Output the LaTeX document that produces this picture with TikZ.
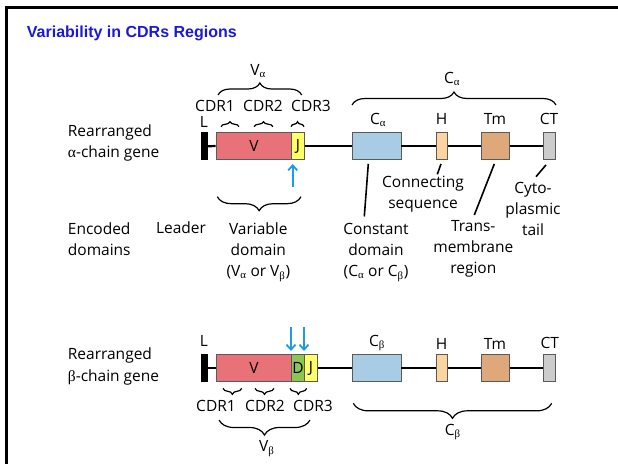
\documentclass[tikz,border=0pt]{standalone}
\usepackage{fontspec}
\setmainfont{Open Sans}
\newfontfamily\titlefont{Liberation Sans}
\newfontfamily\grk{Liberation Serif}
\usetikzlibrary{decorations.pathreplacing,arrows.meta}
\definecolor{titleblue}{RGB}{25,25,215}
\definecolor{vred}{RGB}{232,114,120}
\definecolor{jyellow}{RGB}{255,255,102}
\definecolor{dgreen}{RGB}{140,198,80}
\definecolor{cblue}{RGB}{168,204,228}
\definecolor{hpeach}{RGB}{252,212,160}
\definecolor{tmbrown}{RGB}{222,168,122}
\definecolor{ctgray}{RGB}{204,204,204}
\definecolor{boxgray}{RGB}{90,90,90}
\definecolor{arrowblue}{RGB}{30,155,225}
\newcommand{\galpha}{{\grk α}}
\newcommand{\gbeta}{{\grk β}}
\newcommand{\subalpha}{\textsubscript{\grk α}}
\newcommand{\subbeta}{\textsubscript{\grk β}}
\begin{document}
\begin{tikzpicture}[x=1pt,y=-1pt,
  font=\fontsize{15.5}{21}\selectfont,
  lbl/.style={inner sep=0pt, anchor=base},
  lblw/.style={inner sep=0pt, anchor=base west},
  ml/.style={inner sep=0pt, anchor=base, align=center},
  gbox/.style={draw=boxgray, line width=0.9pt, inner sep=0pt, minimum height=27pt},
  gline/.style={line width=2.2pt},
  brc/.style={decorate, decoration={brace, amplitude=#1}, line width=1.2pt},
  brc/.default=13pt,
  leader/.style={line width=1.6pt},
  blarrow/.style={draw=arrowblue, line width=1.8pt, -{Straight Barb[length=5pt, width=9pt]}},
  frame/.style={line width=3pt}]
\useasboundingbox (0,0) rectangle (618,463);
\clip (0,0) rectangle (618,463);
\draw[frame] (6.3,470) -- (6.3,7.5) -- (625,7.5);

\node[lblw, font=\fontsize{16}{19}\titlefont\bfseries, text=titleblue] (title) at (26.7,37.3) {Variability in CDRs Regions};

% ---------------- alpha chain ----------------
\node[lblw] (ra1) at (67.7,136.7) {Rearranged};
\node[lblw] (ra2) at (67.7,157) {\galpha-chain gene};

\node[gbox, fill=black, draw=black, minimum width=6.3pt] (La) at (204.2,146.3) {};
\node[gbox, fill=vred, minimum width=75.7pt] (Va) at (253.9,146) {V};
\node[gbox, fill=jyellow, minimum width=12.6pt] (Ja) at (298,146) {J};
\node[gbox, fill=cblue, minimum width=49pt] (Ca) at (376.5,146) {};
\node[gbox, fill=hpeach, minimum width=11.7pt] (Ha) at (441.9,146) {};
\node[gbox, fill=tmbrown, minimum width=27.3pt] (Tma) at (495.4,146) {};
\node[gbox, fill=ctgray, minimum width=12pt] (CTa) at (549.7,146) {};

\draw[gline] (La.east) -- (Va.west);
\draw[gline] (Ja.east) -- (Ca.west);
\draw[gline] (Ca.east) -- (Ha.west);
\draw[gline] (Ha.east) -- (Tma.west);
\draw[gline] (Tma.east) -- (CTa.west);

\node[lbl] (La-l) at (204,127.5) {L};
\node[lbl] (Ca-l) at (378,124.3) {C\subalpha};
\node[lbl] (Ha-l) at (441.7,124.3) {H};
\node[lbl] (Tma-l) at (495,124.3) {Tm};
\node[lbl] (CTa-l) at (549,124.3) {CT};

\node[lbl] (cdr1a) at (215,111.5) {CDR1};
\node[lbl] (cdr2a) at (263,111.5) {CDR2};
\node[lbl] (cdr3a) at (311,111.5) {CDR3};

\coordinate (b1aL) at (221,126.7); \coordinate (b1aR) at (239,126.7);
\coordinate (b2aL) at (254,126.7); \coordinate (b2aR) at (273,126.7);
\coordinate (b3aL) at (291,126.7); \coordinate (b3aR) at (304,126.7);
\draw[brc=5pt] (b1aL) -- (b1aR);
\draw[brc=5pt] (b2aL) -- (b2aR);
\draw[brc=5pt] (b3aL) -- (b3aR);

\coordinate (vaL) at (218,95); \coordinate (vaR) at (301.7,95);
\draw[brc=12pt] (vaL) -- (vaR);
\node[lbl] (Valbl) at (258,75) {V\subalpha};

\coordinate (caL) at (352,105); \coordinate (caR) at (556,105);
\draw[brc=13pt] (caL) -- (caR);
\node[lbl] (Calbl) at (452,83.3) {C\subalpha};

\coordinate (arAs) at (292.7,187); \coordinate (arAe) at (292.7,164);
\draw[blarrow] (arAs) -- (arAe);

% encoded domains
\coordinate (vdR) at (301,196.7); \coordinate (vdL) at (217.3,196.7);
\draw[brc=14pt] (vdR) -- (vdL);

\node[lblw, align=left] (enc) at (67.7,255) {Encoded\\domains};
\node[lbl] (leader) at (181,233.3) {Leader};
\node[ml] (vardom) at (258.3,276.5) {Variable\\domain\\(V\subalpha{} or V\subbeta)};

\node[ml] (conn) at (423,208.8) {Connecting\\sequence};
\node[ml] (cst) at (376,276.5) {Constant\\domain\\(C\subalpha{} or C\subbeta)};
\node[ml] (trans) at (473.3,273.5) {Trans-\\membrane\\region};
\node[ml] (cyto) at (533,235.5) {Cyto-\\plasmic\\tail};

\coordinate (cstT) at (364.3,216.5);
\coordinate (connT) at (437.3,174.3);
\coordinate (transT) at (474.3,215);
\coordinate (cytoT) at (536,176.7);
\draw[leader] ([xshift=-8.2pt,yshift=-4pt]Ca.south) -- (cstT);
\draw[leader] ([xshift=-0.9pt,yshift=-4pt]Ha.south) -- (connT);
\draw[leader] ([xshift=-1.1pt,yshift=-4pt]Tma.south) -- (transT);
\draw[leader] ([xshift=-3.7pt,yshift=-5pt]CTa.south) -- (cytoT);

% ---------------- beta chain ----------------
\node[lblw] (rb1) at (67.7,359.3) {Rearranged};
\node[lblw] (rb2) at (67.7,381) {\gbeta-chain gene};

\node[gbox, fill=black, draw=black, minimum width=6.3pt] (Lb) at (204.2,368) {};
\node[gbox, fill=vred, minimum width=75.7pt] (Vb) at (253.9,368) {V};
\node[gbox, fill=dgreen, minimum width=12.6pt] (Db) at (298,368) {D};
\node[gbox, fill=jyellow, minimum width=13.4pt] (Jb) at (311,368) {J};
\node[gbox, fill=cblue, minimum width=49pt] (Cb) at (376.5,368) {};
\node[gbox, fill=hpeach, minimum width=11.7pt] (Hb) at (441.9,368) {};
\node[gbox, fill=tmbrown, minimum width=27.3pt] (Tmb) at (495.4,368) {};
\node[gbox, fill=ctgray, minimum width=12pt] (CTb) at (549.7,368) {};

\draw[gline] (Lb.east) -- (Vb.west);
\draw[gline] (Jb.east) -- (Cb.west);
\draw[gline] (Cb.east) -- (Hb.west);
\draw[gline] (Hb.east) -- (Tmb.west);
\draw[gline] (Tmb.east) -- (CTb.west);

\node[lbl] (Lb-l) at (204,346.7) {L};
\node[lbl] (Cb-l) at (377,346) {C\subbeta};
\node[lbl] (Hb-l) at (441.7,349) {H};
\node[lbl] (Tmb-l) at (495,349) {Tm};
\node[lbl] (CTb-l) at (549.7,348.3) {CT};

\coordinate (arB1s) at (291,327); \coordinate (arB1e) at (291,351);
\coordinate (arB2s) at (304,327); \coordinate (arB2e) at (304,351);
\draw[blarrow] (arB1s) -- (arB1e);
\draw[blarrow] (arB2s) -- (arB2e);

\coordinate (b1bL) at (223,388.3); \coordinate (b1bR) at (241.7,388.3);
\coordinate (b2bL) at (255,388.3); \coordinate (b2bR) at (274,388.3);
\coordinate (b3bL) at (290,388.3); \coordinate (b3bR) at (306.7,388.3);
\draw[brc=6pt] (b1bR) -- (b1bL);
\draw[brc=6pt] (b2bR) -- (b2bL);
\draw[brc=6pt] (b3bR) -- (b3bL);

\node[lbl] (cdr1b) at (216,411.7) {CDR1};
\node[lbl] (cdr2b) at (265,411.7) {CDR2};
\node[lbl] (cdr3b) at (313,411.7) {CDR3};

\coordinate (vbR) at (310,420); \coordinate (vbL) at (219,420);
\draw[brc=15pt] (vbR) -- (vbL);
\node[lbl] (Vblbl) at (266.7,451.7) {V\subbeta};

\coordinate (cbR) at (551.7,403.3); \coordinate (cbL) at (353.3,403.3);
\draw[brc=15pt] (cbR) -- (cbL);
\node[lbl] (Cblbl) at (452.7,435) {C\subbeta};
\end{tikzpicture}
\end{document}
